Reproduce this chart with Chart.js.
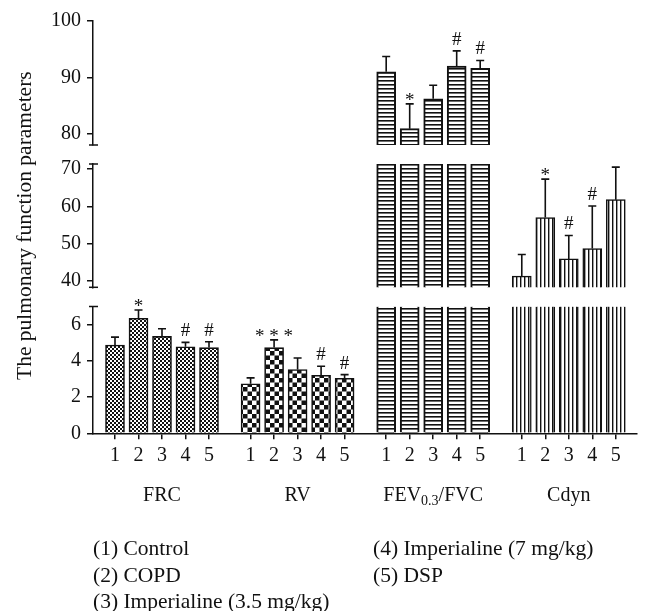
<!DOCTYPE html>
<html>
<head>
<meta charset="utf-8">
<script src="https://cdn.jsdelivr.net/npm/chart.js@4.4.0/dist/chart.umd.min.js"></script>
<style>
  body { margin: 0; background: #fff; }
  #wrap { position: relative; width: 652px; height: 611px; }
  .leg { position: absolute; font-family: 'Liberation Serif', serif; font-size: 21.5px; color: #111; line-height: 26.5px; white-space: nowrap; }
</style>
</head>
<body>
<div id="wrap">
  <canvas id="chart" width="652" height="611"></canvas>
  <div class="leg" style="left:93px; top:535px">
    <div>(1) Control</div>
    <div>(2) COPD</div>
    <div>(3) Imperialine (3.5 mg/kg)</div>
  </div>
  <div class="leg" style="left:373px; top:535px">
    <div>(4) Imperialine (7 mg/kg)</div>
    <div>(5) DSP</div>
  </div>
</div>
<script>
// Données
const groupNames = ['FRC', 'RV', 'FEV0.3/FVC', 'Cdyn'];
const tickLabels = ['1', '2', '3', '4', '5'];

const frcMean = [4.87, 6.35, 5.35, 4.78, 4.73];
const frcSD = [0.44, 0.46, 0.42, 0.24, 0.32];
const frcSig = ['', '*', '', '#', '#'];

const rvMean = [2.73, 4.73, 3.52, 3.20, 3.04];
const rvSD = [0.33, 0.43, 0.64, 0.50, 0.20];
const rvSig = ['', '* * *', '', '#', '#'];

const fevMean = [91.0, 80.9, 86.2, 92.0, 91.6];
const fevSD = [2.7, 4.4, 2.4, 2.7, 1.4];
const fevSig = ['', '*', '', '#', '#'];

const cdynMean = [41.3, 57.0, 45.9, 48.7, 61.8];
const cdynSD = [5.8, 10.3, 6.3, 11.4, 8.7];
const cdynSig = ['', '*', '#', '#', ''];

// Axe Y coupé en trois segments
const y0Ticks = [0, 2, 4, 6];
const y1Ticks = [40, 50, 60, 70];
const y2Ticks = [80, 85, 90, 95, 100];

const FONT = "'Liberation Serif', 'Times New Roman', serif";
const INK = '#111';

const segments = [
    { id: 'y0', min: 0, max: 7, ticks: y0Ticks, weight: 126.8 },
    { id: 'y1', min: 38.3, max: 71.35, ticks: y1Ticks, weight: 123.3 },
    { id: 'y2', min: 78, max: 100, ticks: y2Ticks, weight: 124 }
];
const gapWeights = [19.2, 19];

const series = [
    { mean: frcMean, sd: frcSD, sig: frcSig, pattern: 'fine', edge: 1.6 },
    { mean: rvMean, sd: rvSD, sig: rvSig, pattern: 'coarse', edge: 1.6 },
    { mean: fevMean, sd: fevSD, sig: fevSig, pattern: 'hlines', edge: 2 },
    { mean: cdynMean, sd: cdynSD, sig: cdynSig, pattern: 'vlines', edge: 1.5 }
];

// position des barres sur l'axe x (unité = un emplacement de barre)
const GROUP_STEP = 5.77;
const barPos = (g, i) => 1 + g * GROUP_STEP + i;
const positions = [];
groupNames.forEach((_, g) => tickLabels.forEach((_, i) => positions.push(barPos(g, i))));

// Motifs de remplissage
function makePattern(kind) {
    const c = document.createElement('canvas');
    const size = kind === 'coarse' ? 9 : 4;
    c.width = size; c.height = size;
    const p = c.getContext('2d');
    p.fillStyle = '#fff';
    p.fillRect(0, 0, size, size);
    p.fillStyle = INK;
    if (kind === 'fine') {
        p.fillRect(0, 0, 2, 2);
        p.fillRect(2, 2, 2, 2);
    } else if (kind === 'coarse') {
        p.fillRect(0, 0, 4.5, 4.5);
        p.fillRect(4.5, 4.5, 4.5, 4.5);
    } else if (kind === 'hlines') {
        p.fillRect(0, 0, size, 1.6);
    } else {
        p.fillRect(0, 0, 1.4, size);
    }
    return document.getElementById('chart').getContext('2d').createPattern(c, 'repeat');
}
const patterns = {
    fine: makePattern('fine'),
    coarse: makePattern('coarse'),
    hlines: makePattern('hlines'),
    vlines: makePattern('vlines')
};

// Jeux de données : une série par groupe et par segment d'axe
const datasets = [];
series.forEach((s, g) => {
    const lo = Math.min(...s.mean);
    segments.forEach(seg => {
        if (lo <= seg.min) return;
        const filler = lo > seg.max;
        datasets.push({
            data: s.mean.map((v, i) => ({ x: barPos(g, i), y: Math.min(v, seg.max) })),
            yAxisID: seg.id,
            backgroundColor: patterns[s.pattern],
            borderColor: INK,
            borderWidth: filler ? { left: s.edge, right: s.edge, top: 0, bottom: 0 } : s.edge,
            borderSkipped: 'start',
            barThickness: 19,
            grouped: false
        });
    });
});

const segmentOf = v => segments.find(seg => v >= seg.min && v <= seg.max);

// Barres d'erreur et marques de signification
const errorBars = {
    id: 'errorBars',
    afterDatasetsDraw(chart) {
        const ctx = chart.ctx;
        const xs = chart.scales.x;
        ctx.save();
        ctx.strokeStyle = INK;
        ctx.fillStyle = INK;
        ctx.lineWidth = 1.6;
        ctx.font = '19px ' + FONT;
        ctx.textAlign = 'center';
        ctx.textBaseline = 'alphabetic';
        series.forEach((s, g) => {
            s.mean.forEach((m, i) => {
                const ys = chart.scales[segmentOf(m).id];
                const x = xs.getPixelForValue(barPos(g, i));
                const yTop = ys.getPixelForValue(m);
                const yErr = ys.getPixelForValue(m + s.sd[i]);
                ctx.beginPath();
                ctx.moveTo(x, yTop);
                ctx.lineTo(x, yErr);
                ctx.moveTo(x - 4, yErr);
                ctx.lineTo(x + 4, yErr);
                ctx.stroke();
                const mark = s.sig[i];
                if (mark) {
                    const y = mark.startsWith('#') ? yErr - 6 : yErr + 2;
                    ctx.fillText(mark, x, y);
                }
            });
        });
        ctx.restore();
    }
};

// Extrémités des segments de l'axe y et noms des groupes
const axisDecor = {
    id: 'axisDecor',
    afterDraw(chart) {
        const ctx = chart.ctx;
        const ax = chart.chartArea.left;
        ctx.save();
        ctx.strokeStyle = INK;
        ctx.lineWidth = 1.5;
        segments.forEach(seg => {
            const sc = chart.scales[seg.id];
            [seg.min, seg.max].forEach(v => {
                if (seg.ticks.includes(v)) return;
                const y = sc.getPixelForValue(v);
                ctx.beginPath();
                ctx.moveTo(ax - 4, y);
                ctx.lineTo(ax + 5, y);
                ctx.stroke();
            });
        });

        const xs = chart.scales.x;
        const yLab = 501;
        ctx.fillStyle = INK;
        ctx.textBaseline = 'alphabetic';
        groupNames.forEach((name, g) => {
            const cx = xs.getPixelForValue(barPos(g, 2));
            const m = name.match(/^(FEV)([\d.]+)(\/FVC)$/);
            if (!m) {
                ctx.font = '20px ' + FONT;
                ctx.textAlign = 'center';
                ctx.fillText(name, cx, yLab);
                return;
            }
            const big = '20px ' + FONT, small = '14px ' + FONT;
            ctx.font = big; const w1 = ctx.measureText(m[1]).width; const w3 = ctx.measureText(m[3]).width;
            ctx.font = small; const w2 = ctx.measureText(m[2]).width;
            let x = cx - (w1 + w2 + w3) / 2;
            ctx.textAlign = 'left';
            ctx.font = big; ctx.fillText(m[1], x, yLab); x += w1;
            ctx.font = small; ctx.fillText(m[2], x, yLab + 4); x += w2;
            ctx.font = big; ctx.fillText(m[3], x, yLab);
        });
        ctx.restore();
    }
};

// Échelles
const tickFont = { family: FONT, size: 20 };
const scales = {};
segments.forEach((seg, k) => {
    scales[seg.id] = {
        type: 'linear',
        position: 'left',
        stack: 'y',
        stackWeight: seg.weight,
        weight: 2 * k + 1,
        min: seg.min,
        max: seg.max,
        afterBuildTicks: s => { s.ticks = seg.ticks.map(v => ({ value: v })); },
        afterFit: s => { s.width = 93; },
        grid: { drawOnChartArea: false, tickLength: 6, color: INK, lineWidth: 1.5 },
        border: { display: true, color: INK, width: 1.5 },
        ticks: { font: tickFont, color: INK, padding: 6 }
    };
    if (k < gapWeights.length) {
        scales['gap' + k] = {
            type: 'linear',
            position: 'left',
            stack: 'y',
            stackWeight: gapWeights[k],
            weight: 2 * k + 2,
            display: false
        };
    }
});
scales.y1.title = {
    display: true,
    text: 'The pulmonary function parameters',
    font: { family: FONT, size: 21.5 },
    color: INK,
    padding: { top: 12, bottom: 0 }
};
scales.x = {
    type: 'linear',
    offset: false,
    min: 1 - 22 / 23.5,
    max: 1 - 22 / 23.5 + 544 / 23.5,
    afterBuildTicks: s => { s.ticks = positions.map(v => ({ value: v })); },
    afterFit: s => { s.height = 177.7; },
    grid: { offset: false, drawOnChartArea: false, tickLength: 6, color: INK, lineWidth: 1.5 },
    border: { display: true, color: INK, width: 1.5 },
    ticks: {
        autoSkip: false,
        maxRotation: 0,
        padding: 4,
        font: tickFont,
        color: INK,
        callback: (v, i) => tickLabels[i % tickLabels.length]
    }
};

new Chart(document.getElementById('chart'), {
    type: 'bar',
    data: { datasets },
    options: {
        responsive: false,
        devicePixelRatio: 1,
        animation: false,
        layout: { padding: { top: 21, right: 15, bottom: 0, left: 0 } },
        plugins: { legend: { display: false }, tooltip: { enabled: false } },
        scales
    },
    plugins: [errorBars, axisDecor]
});
</script>
</body>
</html>
